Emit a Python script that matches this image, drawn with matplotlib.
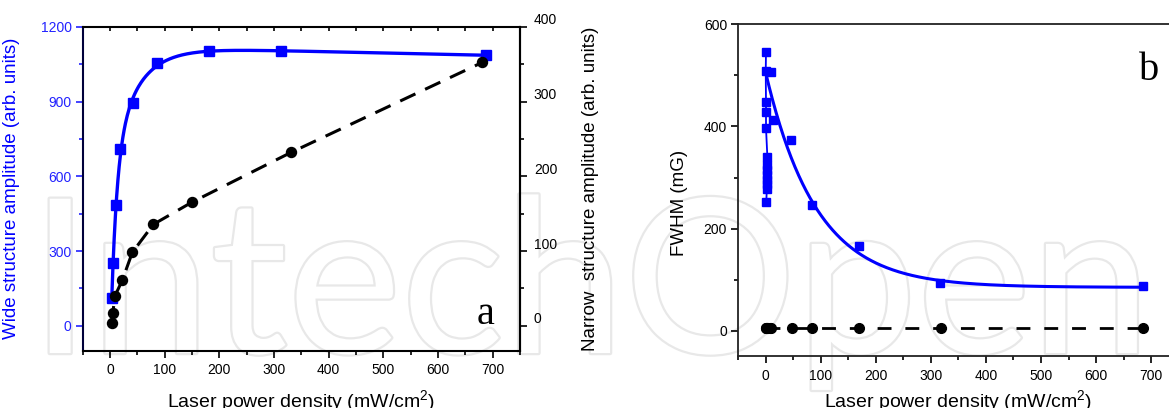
import numpy as np
import matplotlib
matplotlib.use("Agg")
import matplotlib.pyplot as plt
from matplotlib import patheffects
from matplotlib.ticker import MultipleLocator
from matplotlib.transforms import ScaledTranslation

# ---------------- data ----------------
# (a) wide structure amplitude vs. laser power density
power_wide = [3, 6, 11, 19, 42.6, 85.8, 181.8, 313, 688]
wide_amp = [110, 251, 484, 710, 893, 1056, 1103, 1102, 1087]

# (a) narrow structure amplitude vs. laser power density
power_narrow = [3, 5, 9, 22.6, 40.8, 79.3, 149.4, 331, 681]
narrow_amp = [4, 16.6, 39.8, 61.2, 98.2, 135.7, 165.2, 232, 352.6]

# (b) FWHM of the wide structure, low-power series (joined by a line)
power_low = [0.5, 0.0, 0.5, 0.5, 0.5, 3.0, 2.0, 2.5, 3.0, 2.5, 3.0, 2.0, 1.0]
fwhm_low = [545, 508, 447, 428, 397, 340, 324, 314, 304, 296, 287, 278, 252]

# (b) FWHM of the wide structure, remaining measurements
power_high = [9, 12.7, 45.4, 83.5, 170, 316.6, 686]
fwhm_high = [507, 413, 374, 246, 166, 92.6, 87.4]

# (b) FWHM of the narrow structure
power_narrow_b = [0.5, 1, 2, 3, 5, 8, 10, 47, 83.5, 170, 318, 686]
fwhm_narrow = [5, 5, 5, 5, 5, 5, 5, 5, 5, 5, 5, 5]

# (b) exponential decay fit of the FWHM: offset + amplitude * exp(-P / length)
fwhm_fit_offset = 85.0
fwhm_fit_amplitude = 420.0
fwhm_fit_length = 92.0

BLUE = "#0000ff"
TICK_BLUE = "#2222ff"


def saturation_fit(x, y):
    """Least-squares fit y = c0 + c1(1-e^{-x/t1}) + c2(1-e^{-x/t2}) + c3 x."""
    x = np.asarray(x, float)
    y = np.asarray(y, float)
    best = None
    for t1 in np.linspace(2, 40, 39):
        for t2 in np.linspace(20, 200, 37):
            if t2 <= t1:
                continue
            M = np.column_stack([np.ones_like(x), 1 - np.exp(-x / t1),
                                 1 - np.exp(-x / t2), x])
            coef = np.linalg.lstsq(M, y, rcond=None)[0]
            err = np.sum((M @ coef - y) ** 2)
            if best is None or err < best[0]:
                best = (err, t1, t2, coef)
    _, t1, t2, c = best
    return lambda p: c[0] + c[1] * (1 - np.exp(-p / t1)) + c[2] * (1 - np.exp(-p / t2)) + c[3] * p


plt.rcParams["font.family"] = ["Liberation Sans", "DejaVu Sans"]
plt.rcParams["mathtext.fontset"] = "custom"
plt.rcParams["mathtext.rm"] = "Liberation Sans"
plt.rcParams["mathtext.it"] = "Liberation Sans:italic"

W, H = 1169, 408
fig = plt.figure(figsize=(W / 100, H / 100), dpi=100)

# faint outlined watermark behind both panels
fig.text(30 / W, 55 / H, "IntechOpen", fontsize=155, family="Lato",
         color="white", ha="left", va="baseline", zorder=-5,
         path_effects=[patheffects.withStroke(linewidth=3.2, foreground="#e8e8e8")])


def style_x(ax):
    ax.set_xlim(-50, 750)
    ax.xaxis.set_major_locator(MultipleLocator(100))
    ax.xaxis.set_minor_locator(MultipleLocator(50))
    ax.tick_params(axis="x", which="major", direction="out", length=5, width=1.2,
                   labelsize=10, pad=4)
    ax.tick_params(axis="x", which="minor", direction="out", length=3, width=1.2)
    ax.set_xlabel("Laser power density (mW/cm$^2$)", fontsize=14, va="baseline")


# ---------------- panel a ----------------
axa = fig.add_axes([82.7 / W, (H - 350.6) / H, (520 - 82.7) / W, (350.6 - 27) / H])
axa.set_facecolor("none")
style_x(axa)
axa.set_ylim(-100, 1200)
axa.yaxis.set_major_locator(MultipleLocator(300))
axa.yaxis.set_minor_locator(MultipleLocator(150))
axa.tick_params(axis="y", which="major", direction="out", length=5, width=1.2,
                colors=TICK_BLUE, labelsize=10, pad=3)
axa.tick_params(axis="y", which="minor", direction="out", length=3, width=1.2,
                colors=TICK_BLUE)
axa.tick_params(axis="x", which="both", top=True, labeltop=False)
for t in axa.xaxis.get_major_ticks() + axa.xaxis.get_minor_ticks():
    t.tick2line.set_marker(3)
    t.tick2line.set_markersize(3)
for side in ["bottom", "top", "right"]:
    axa.spines[side].set_linewidth(1.5)
    axa.spines[side].set_color("black")
axa.spines["left"].set_linewidth(1.5)
axa.spines["left"].set_color("#00003a")
axa.set_ylabel("Wide structure amplitude (arb. units)", fontsize=13.5, color=BLUE)
axa.yaxis.set_label_coords(-0.143, 0.5)
axa.xaxis.set_label_coords(0.5, -0.174)

fit_a = saturation_fit(power_wide, wide_amp)
pa = np.linspace(min(power_wide), max(power_wide), 600)
axa.plot(pa, fit_a(pa), color=BLUE, lw=2.4, zorder=3)
axa.plot(power_wide, wide_amp, ls="none", marker="s", ms=7, color=BLUE, zorder=4)

axn = axa.twinx()
axn.set_ylim(-100 / 3, 400)
axn.yaxis.set_major_locator(MultipleLocator(100))
axn.yaxis.set_minor_locator(MultipleLocator(50))
axn.tick_params(axis="y", which="major", direction="out", length=5, width=1.2,
                labelsize=10, pad=5)
axn.tick_params(axis="y", which="minor", direction="out", length=3, width=1.2)
for s in axn.spines.values():
    s.set_visible(False)
axn.spines["right"].set_visible(True)
axn.spines["right"].set_linewidth(1.5)
axn.set_ylabel("Narrow  structure amplitude (arb. units)", fontsize=13.5)
axn.yaxis.set_label_coords(1.142, 0.5)
axn.plot(power_narrow, narrow_amp, color="black", lw=2.2, ls=(0, (5.5, 3.5)), zorder=3)
axn.plot(power_narrow, narrow_amp, ls="none", marker="o", ms=7.2, color="black", zorder=4)
axa.text(0.9216, 0.082, "a", transform=axa.transAxes, fontsize=29,
         family="Liberation Serif", ha="center", va="baseline")

# ---------------- panel b ----------------
axb = fig.add_axes([738.2 / W, (H - 356.3) / H, (1178.6 - 738.2) / W, (356.3 - 24.3) / H])
axb.set_facecolor("none")
style_x(axb)
axb.set_ylim(-50, 600)
axb.yaxis.set_major_locator(MultipleLocator(200))
axb.yaxis.set_minor_locator(MultipleLocator(100))
axb.tick_params(axis="y", which="major", direction="out", length=5, width=1.2,
                labelsize=10, pad=3)
axb.tick_params(axis="y", which="minor", direction="out", length=3, width=1.2)
for s in axb.spines.values():
    s.set_linewidth(1.3)
    s.set_color("#222222")
axb.set_ylabel("FWHM (mG)", fontsize=13.5)
axb.yaxis.set_label_coords(-0.115, 0.463)
axb.xaxis.set_label_coords(0.5, -0.152)

pb = np.linspace(0.5, 686, 600)
axb.plot(pb, fwhm_fit_offset + fwhm_fit_amplitude * np.exp(-pb / fwhm_fit_length),
         color=BLUE, lw=2.2, zorder=3)
axb.plot(power_low, fwhm_low, color=BLUE, lw=1.3, marker="s", ms=6.3, zorder=4)
axb.plot(power_high, fwhm_high, ls="none", marker="s", ms=6.3, color=BLUE, zorder=4)
axb.plot(power_narrow_b, fwhm_narrow, color="black", lw=2.0, ls=(0, (5, 5)), zorder=3)
axb.plot(power_narrow_b, fwhm_narrow, ls="none", marker="o", ms=7, color="black", zorder=4)
axb.text(0.9328, 0.832, "b", transform=axb.transAxes, fontsize=29,
         family="Liberation Serif", ha="center", va="baseline")

# right-hand labels of panel a sit slightly above their ticks
fig.canvas.draw()
shift = ScaledTranslation(0, 0.08, fig.dpi_scale_trans)
for t in axn.yaxis.get_major_ticks():
    t.label2.set_transform(t.label2.get_transform() + shift)

fig.savefig("out.png", dpi=100)
